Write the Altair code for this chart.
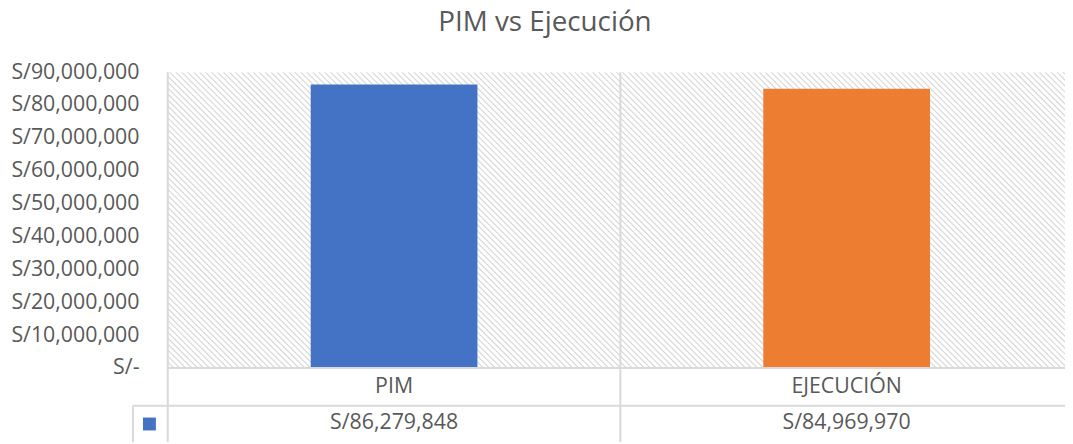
import altair as alt
import numpy as np
import pandas as pd

categories = ["PIM", "EJECUCIÓN"]
values = [86279848, 84969970]
value_labels = ["S/86,279,848", "S/84,969,970"]
colors = ["#4472C4", "#ED7D31"]
y_ticks = [0, 10000000, 20000000, 30000000, 40000000, 50000000,
           60000000, 70000000, 80000000, 90000000]
title_text = "PIM vs Ejecución"

W, H = 904, 298       # visible plot area
BAND_W = 912          # category band extent (last band runs past the edge)
FONT = "Open Sans"
TXT = "#595959"
LINE = "#d9d9d9"
FS = 21.5

df = pd.DataFrame({"cat": categories, "val": values, "label": value_labels})
one = pd.DataFrame({"a": [0]})

xenc = alt.X("cat:N", sort=categories,
             scale=alt.Scale(paddingInner=0, paddingOuter=0, range=[0, BAND_W]),
             axis=None)

# decorative diagonal hatch of the plot background
hatch_offsets = pd.DataFrame({"x0": np.arange(-H, W, 6)})
hatch_offsets["x1"] = hatch_offsets["x0"] + H
hatch = alt.Chart(hatch_offsets).mark_rule(
    color="#d8d8d8", strokeWidth=1.2, clip=True).encode(
    x=alt.X("x0:Q", scale=None), x2="x1:Q", y=alt.value(0), y2=alt.value(H))

bars = alt.Chart(df).mark_bar(size=168).encode(
    x=xenc,
    y=alt.Y("val:Q",
            scale=alt.Scale(domain=[0, 90000000], nice=False, zero=True),
            axis=alt.Axis(values=y_ticks, grid=False, domain=False, ticks=False,
                          labelExpr="datum.value == 0 ? 'S/-' : 'S/' + format(datum.value, ',')",
                          labelFontSize=FS, labelFont=FONT, labelColor=TXT,
                          labelPadding=29, title=None)),
    color=alt.Color("cat:N", scale=alt.Scale(domain=categories, range=colors), legend=None),
)

def rule(x1, x2, y1, y2):
    return alt.Chart(one).mark_rule(color=LINE, strokeWidth=2).encode(
        x=alt.value(x1), x2=alt.value(x2), y=alt.value(y1), y2=alt.value(y2))

rules = [
    rule(0, 0, 0, H + 75),
    rule(BAND_W / 2, BAND_W / 2, 0, H + 75),
    rule(0, W, H, H),
    rule(-35, W, H + 38, H + 38),
    rule(-35, -35, H + 38, H + 75),
]

cat_text = alt.Chart(df).mark_text(fontSize=FS, font=FONT, color=TXT, baseline="middle").encode(
    x=xenc, y=alt.value(H + 19), text="cat:N")

val_text = alt.Chart(df).mark_text(fontSize=FS, font=FONT, color=TXT, baseline="middle").encode(
    x=xenc, y=alt.value(H + 56), text="label:N")

key = alt.Chart(one).mark_square(size=169, color=colors[0], opacity=1).encode(
    x=alt.value(-18.5), y=alt.value(H + 56.5))

title = alt.Chart(one).mark_text(fontSize=28, font=FONT, color=TXT, baseline="middle").encode(
    x=alt.value(380), y=alt.value(-49), text=alt.value(title_text))

chart = alt.layer(hatch, bars, *rules, cat_text, val_text, key, title).properties(
    width=W, height=H,
    autosize=alt.AutoSizeParams(type="none"),
    padding={"left": 161, "top": 63, "right": 0, "bottom": 75},
).configure_view(stroke=None)

chart.save("out.html", embed_options={"renderer": "svg", "actions": False})
